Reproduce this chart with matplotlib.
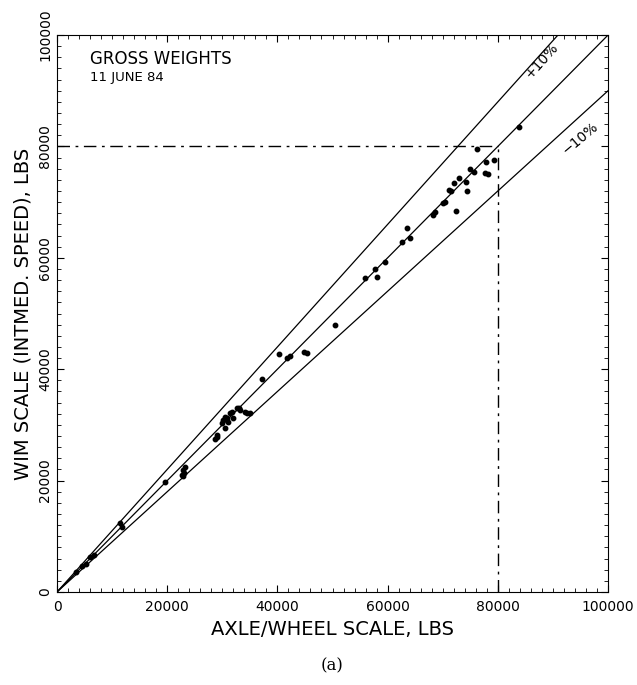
import matplotlib
matplotlib.use("Agg")
import matplotlib.pyplot as plt
import numpy as np
from matplotlib.ticker import MultipleLocator

# axle/wheel scale weight vs WIM scale weight (lbs)
scale_lbs = [3500, 4500, 5200, 6000, 6800, 11400, 11800, 19600,
             22600, 22900, 23200, 22800, 23000, 28700, 29000, 29000,
             29900, 30500, 30500, 30800, 31400, 31000, 32000, 32600, 33200, 34100,
             34400, 31800, 30200, 33000, 35000, 37200,
             40300, 41700, 42200, 44800, 45300, 50500,
             55900, 57700, 58000, 59500, 62700, 63500, 64100,
             68300, 68600, 70000, 70400, 72400, 71200, 71500, 74400, 72100, 74200, 73000,
             75000, 75600, 77700, 78300, 77800, 79300, 76200, 83900]
wim_lbs = [3600, 4700, 5100, 6200, 6700, 12300, 11700, 19800,
           21000, 21900, 22500, 20800, 21400, 27400, 27900, 28200,
           30300, 29400, 31500, 31200, 32100, 30600, 31200, 33000, 32700, 32400,
           32100, 32400, 30800, 33100, 32200, 38200,
           42700, 42000, 42300, 43100, 42900, 48000,
           56300, 58000, 56500, 59300, 62900, 65300, 63500,
           67700, 68300, 69900, 70100, 68400, 72200, 72000, 72000, 73500, 73600, 74300,
           75900, 75400, 75200, 75000, 77200, 77500, 79500, 83500]

band = [1.0, 1.1, 0.9]
limit = 80000
band_labels = ["+10%", "\u221210%"]
tick_vals = [0, 20000, 40000, 60000, 80000, 100000]

fig = plt.figure(figsize=(6.37, 6.85), dpi=100)
ax = fig.add_axes([0.0895, 0.1358, 0.865, 0.813])

xx = np.array([0, 100000])
for k in band:
    ax.plot(xx, k * xx, color="black", linewidth=0.9)

ax.plot([0, limit], [limit, limit], color="black", linewidth=1.0, dashes=[9, 4, 2, 4])
ax.plot([limit, limit], [0, limit], color="black", linewidth=1.0, dashes=[9, 4, 2, 4])

ax.plot(scale_lbs, wim_lbs, "o", color="black", markersize=3.2)

ax.text(88000, 95500, band_labels[0], rotation=48, fontsize=10,
        ha="center", va="center")
ax.text(95000, 81500, band_labels[1], rotation=40, fontsize=10,
        ha="center", va="center")

ax.text(6000, 94000, "GROSS WEIGHTS", fontsize=12, ha="left", va="bottom")
ax.text(6000, 93600, "11 JUNE 84", fontsize=9.5, ha="left", va="top")

ax.set_xlim(0, 100000)
ax.set_ylim(0, 100000)
ax.set_xticks(tick_vals)
ax.set_yticks(tick_vals)
ax.set_xticklabels([str(v) for v in tick_vals])
ax.set_yticklabels([str(v) for v in tick_vals], rotation=90, va="center")
ax.xaxis.set_minor_locator(MultipleLocator(2000))
ax.yaxis.set_minor_locator(MultipleLocator(2000))
ax.tick_params(which="both", direction="in", top=True, right=True, labelsize=10)
ax.tick_params(which="major", length=5)
ax.tick_params(which="minor", length=3)
ax.tick_params(axis="x", pad=6)

ax.set_xlabel("AXLE/WHEEL SCALE, LBS", fontsize=14, labelpad=4)
ax.set_ylabel("WIM SCALE (INTMED. SPEED), LBS", fontsize=14, labelpad=4)

fig.text(0.5 * (0.0895 + 0.9545), 0.028, "(a)", fontsize=12,
         family="DejaVu Serif", ha="center", va="center")

fig.savefig("out.png", dpi=100)
